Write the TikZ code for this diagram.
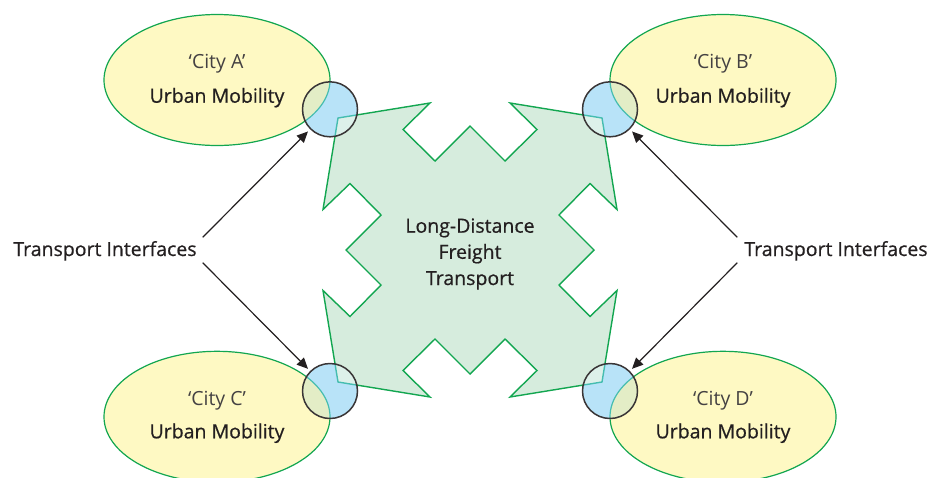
\documentclass[tikz,border=0pt]{standalone}
\usepackage{fontspec}
\setmainfont{Open Sans}
\newfontfamily\heavyfont{Open Sans}[FakeBold=0.6, BoldFont={Open Sans}]
\usetikzlibrary{shapes.geometric,arrows.meta}
\definecolor{cyel}{HTML}{FEF9C3}
\definecolor{cgrn}{HTML}{12A650}
\definecolor{cpoly}{HTML}{D6ECDD}
\definecolor{cblue}{HTML}{B8E3F8}
\definecolor{cmix}{HTML}{E3EDC6}
\definecolor{cpmix}{HTML}{DDF1EA}
\definecolor{cteal}{HTML}{45BDB0}
\definecolor{ctxt}{HTML}{231F20}
\def\freightpath{(338,118) -- (430,103) -- (403,129.5) -- (435,161) -- (470,126) -- (505,161) -- (537,129.5) -- (510,103) -- (602,118) -- (617,209.5) -- (590,183.5) -- (559,215) -- (594,250) -- (559,285) -- (590,316.5) -- (617,290.5) -- (602,382) -- (510,397) -- (537,370.5) -- (505,339) -- (470,374) -- (435,339) -- (403,370.5) -- (430,397) -- (338,382) -- (323,290.5) -- (350,316.5) -- (381,285) -- (346,250) -- (381,215) -- (350,183.5) -- (323,209.5) -- cycle}
\tikzset{
  cityshape/.style={ellipse, draw=cgrn, fill=cyel, line width=1.2pt, minimum width=226pt, minimum height=131pt, inner sep=0pt},
  iface/.style={circle, draw=ctxt!90, line width=1.5pt, minimum size=55pt, inner sep=0pt},
  lbl/.style={font=\heavyfont\bfseries\fontsize{19.5}{23}\selectfont, text=ctxt, anchor=base, inner sep=0pt},
  citytitle/.style={font=\fontsize{19.5}{23}\selectfont, anchor=base, inner sep=0pt, text=ctxt!85},
  arr/.style={line width=1.2pt, draw=ctxt, -{Triangle[length=11pt,width=10pt]}, shorten >=3pt},
  freight/.style={fill=cpoly, draw=cgrn, line width=1.4pt, line join=miter}
}
\begin{document}
\begin{tikzpicture}[x=1pt,y=-1pt]
\useasboundingbox (0,0) rectangle (934,477);
% city ellipses
\node[cityshape] (cityA) at (217,80) {};
\node[cityshape] (cityB) at (723,80) {};
\node[cityshape] (cityC) at (217,416.8) {};
\node[cityshape] (cityD) at (723,416.8) {};
% freight shape
\path[freight] \freightpath;
% overlaps inside the interface circles
\foreach \cx/\cy/\ex/\ey in {330/109.3/217/80, 610/109.3/723/80, 330/391/217/416.8, 610/391/723/416.8}{
  \begin{scope}
    \clip (\cx,\cy) circle[radius=27.5];
    \fill[cblue] (\cx,\cy) circle[radius=28];
    \fill[cmix] (\ex,\ey) ellipse[x radius=113, y radius=65.5];
    \draw[cteal, line width=1.2pt] (\ex,\ey) ellipse[x radius=113, y radius=65.5];
    \path[fill=cpmix, draw=cteal, line width=1.4pt] \freightpath;
  \end{scope}
}
% interface circles
\node[iface] (ifA) at (330,109.3) {};
\node[iface] (ifB) at (610,109.3) {};
\node[iface] (ifC) at (330,391) {};
\node[iface] (ifD) at (610,391) {};
% city texts
\node[citytitle] (tA) at (217,68.3) {‘City A’};
\node[lbl] (uA) at (217,102.7) {Urban Mobility};
\node[citytitle] (tB) at (723,68.3) {‘City B’};
\node[lbl] (uB) at (723,102.7) {Urban Mobility};
\node[citytitle] (tC) at (217,405) {‘City C’};
\node[lbl] (uC) at (217,438.3) {Urban Mobility};
\node[citytitle] (tD) at (723,405) {‘City D’};
\node[lbl] (uD) at (723,438.3) {Urban Mobility};
% center text
\node[lbl] (f1) at (470,232.7) {Long-Distance};
\node[lbl] (f2) at (470,258.8) {Freight};
\node[lbl] (f3) at (470,285) {Transport};
% labels
\node[lbl] (tiL) at (105,256) {Transport Interfaces};
\node[lbl] (tiR) at (836,256) {Transport Interfaces};
% arrows
\coordinate (sL1) at (202.7,237.3);
\coordinate (sL2) at (202.7,262.7);
\coordinate (sR1) at (737.3,237.3);
\coordinate (sR2) at (737.3,262.7);
\draw[arr] (sL1) -- (ifA);
\draw[arr] (sL2) -- (ifC);
\draw[arr] (sR1) -- (ifB);
\draw[arr] (sR2) -- (ifD);
\end{tikzpicture}
\end{document}
